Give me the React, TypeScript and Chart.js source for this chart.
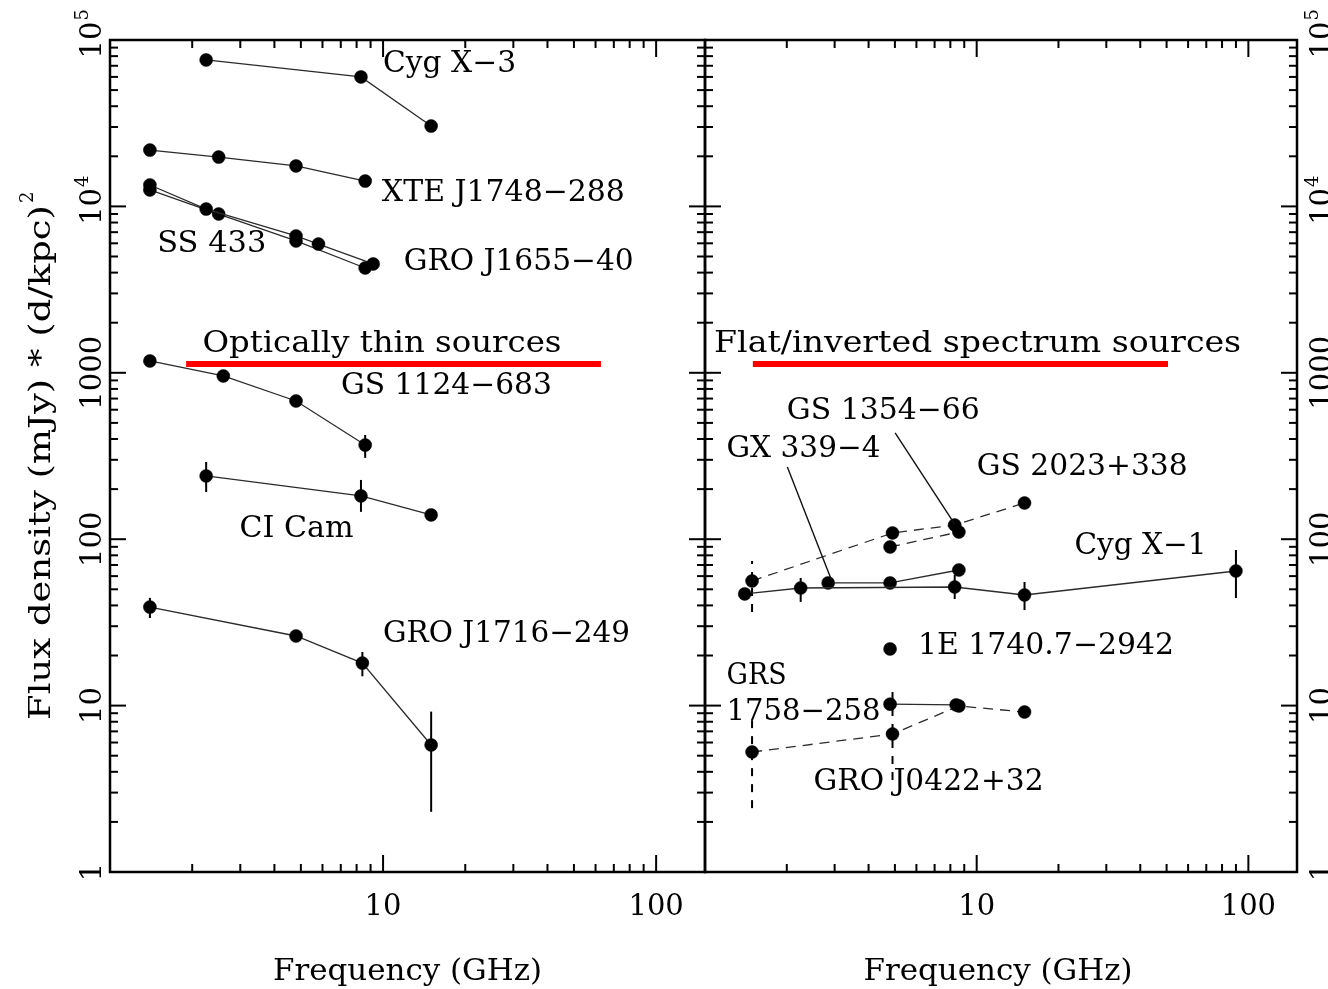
import React, { useEffect, useRef } from "react";
import { Chart, registerables } from "chart.js";

Chart.register(...registerables);

const W = 1328;
const H = 989;
const FONT = '"DejaVu Serif", "Liberation Serif", serif';
const FS = 29;

const X_MIN = 1;
const X_MAX = 151;
const Y_MIN = 1;
const Y_MAX = 100000;
const X_TICK_LABELS = [10, 100];
const Y_TICK_LABELS = [1, 10, 100, 1000, 10000, 100000];

// ---------- Left panel: optically thin sources ----------
const CYGX3_FREQ = [2.25, 8.3, 15];
const CYGX3_FLUX = [75900, 60000, 30400];

const XTE1748_FREQ = [1.4, 2.5, 4.8, 8.6];
const XTE1748_FLUX = [21800, 19800, 17500, 14200];

const SS433_FREQ = [1.4, 2.25, 4.8, 5.8, 9.2];
const SS433_FLUX = [13450, 9640, 6640, 5940, 4510];

const GRO1655_FREQ = [1.4, 2.5, 4.8, 8.6];
const GRO1655_FLUX = [12550, 9000, 6200, 4265];

const GS1124_FREQ = [1.4, 2.6, 4.8, 8.6];
const GS1124_FLUX = [1178, 957, 677, 368];
const GS1124_LO = [null, null, null, 308];
const GS1124_HI = [null, null, null, 423];

const CICAM_FREQ = [2.25, 8.3, 15];
const CICAM_FLUX = [240, 182, 140];
const CICAM_LO = [192, 146, null];
const CICAM_HI = [291, 227, null];

const GRO1716_FREQ = [1.4, 4.8, 8.4, 15];
const GRO1716_FLUX = [39.1, 26.2, 18.0, 5.8];
const GRO1716_LO = [33.6, null, 15.0, 2.3];
const GRO1716_HI = [44.4, null, 21.0, 9.2];

// ---------- Right panel: flat / inverted spectrum sources ----------
const CYGX1_FREQ = [1.4, 2.25, 8.3, 15, 90];
const CYGX1_FLUX = [46.9, 50.9, 51.6, 46.2, 64.4];
const CYGX1_LO = [null, 42.0, 43.7, 37.5, 44.3];
const CYGX1_HI = [null, 58.5, 61.0, 55.3, 86.1];

const GX339_FREQ = [2.84, 4.8, 8.6];
const GX339_FLUX = [54.6, 54.6, 65.3];

const GS2023_FREQ = [1.49, 4.9, 8.3, 15];
const GS2023_FLUX = [56.1, 109, 121.7, 165];
const GS2023_LO = [36.5, null, null, null];
const GS2023_HI = [74, null, null, null];

const GS1354_FREQ = [4.8, 8.6];
const GS1354_FLUX = [89.8, 110.5];

const E1740_FREQ = [4.8];
const E1740_FLUX = [21.9];

const GRS1758_FREQ = [4.8, 8.4];
const GRS1758_FLUX = [10.2, 10.1];

const GRO0422_FREQ = [1.49, 4.9, 8.6, 15];
const GRO0422_FLUX = [5.26, 6.75, 9.95, 9.15];
const GRO0422_LO = [2.42, 3.57, null, null];
const GRO0422_HI = [8.2, 12.8, null, null];

// ---------- annotations (data coordinates) ----------
const LEFT_BAR_FREQ = [1.9, 62.8];
const RIGHT_BAR_FREQ = [1.5, 50.6];
const BAR_FLUX = 1130;

const GX339_POINTER_FREQ = [2.01, 2.92];
const GX339_POINTER_FLUX = [272, 56.9];
const GS1354_POINTER_FREQ = [5.01, 8.3];
const GS1354_POINTER_FLUX = [435, 123];

type Label = { text: string; f: number; v: number; w: number };

const LEFT_LABELS: Label[] = [
  { text: "Cyg X\u22123", f: 10.0, v: 70800, w: 133 },
  { text: "XTE J1748\u2212288", f: 9.9, v: 11880, w: 243 },
  { text: "SS 433", f: 1.49, v: 5940, w: 109 },
  { text: "GRO J1655\u221240", f: 11.9, v: 4634, w: 230 },
  { text: "Optically thin sources", f: 2.18, v: 1490, w: 359 },
  { text: "GS 1124\u2212683", f: 7.01, v: 822, w: 211 },
  { text: "CI Cam", f: 2.98, v: 115, w: 114 },
  { text: "GRO J1716\u2212249", f: 10.0, v: 26.6, w: 247 },
];

const RIGHT_LABELS: Label[] = [
  { text: "Flat/inverted spectrum sources", f: 1.08, v: 1490, w: 527 },
  { text: "GS 1354\u221266", f: 2.0, v: 589, w: 193 },
  { text: "GX 339\u22124", f: 1.2, v: 344, w: 154 },
  { text: "GS 2023+338", f: 10.0, v: 268, w: 211 },
  { text: "Cyg X\u22121", f: 22.9, v: 91.0, w: 132 },
  { text: "1E 1740.7\u22122942", f: 6.08, v: 22.8, w: 256 },
  { text: "GRS", f: 1.2, v: 14.9, w: 60 },
  { text: "1758\u2212258", f: 1.2, v: 9.15, w: 154 },
  { text: "GRO J0422+32", f: 2.51, v: 3.47, w: 230 },
];

type Series = {
  freq: number[];
  flux: number[];
  lo?: (number | null)[];
  hi?: (number | null)[];
  dashed?: boolean;
};

function seriesDatasets(s: Series): any[] {
  const out: any[] = [];
  out.push({
    data: s.freq.map((f, i) => ({ x: f, y: s.flux[i] })),
    showLine: true,
    borderColor: "#2b2b2b",
    borderWidth: 1.3,
    borderDash: s.dashed ? [10, 7] : [],
    pointRadius: 6.5,
    pointBackgroundColor: "#000",
    pointBorderColor: "#000",
    pointBorderWidth: 0.5,
  });
  if (s.lo && s.hi) {
    s.freq.forEach((f, i) => {
      const lo = s.lo![i];
      const hi = s.hi![i];
      if (lo == null || hi == null) return;
      out.push({
        data: [
          { x: f, y: lo },
          { x: f, y: hi },
        ],
        showLine: true,
        borderColor: "#000",
        borderWidth: 2,
        borderDash: s.dashed ? [8, 8] : [],
        pointRadius: 0,
      });
    });
  }
  return out;
}

function lineDataset(fs: number[], vs: number[], color: string, width: number): any {
  return {
    data: fs.map((f, i) => ({ x: f, y: vs[i] })),
    showLine: true,
    borderColor: color,
    borderWidth: width,
    pointRadius: 0,
  };
}

function fitText(ctx: CanvasRenderingContext2D, text: string, x: number, y: number, w: number) {
  ctx.font = `${FS}px ${FONT}`;
  const nw = ctx.measureText(text).width;
  ctx.save();
  ctx.translate(x, y);
  ctx.scale(w / nw, 1);
  ctx.textAlign = "left";
  ctx.textBaseline = "middle";
  ctx.fillText(text, 0, 0);
  ctx.restore();
}

function yLabel(ctx: CanvasRenderingContext2D, v: number, bx: number, py: number) {
  ctx.save();
  ctx.translate(bx, py);
  ctx.rotate(-Math.PI / 2);
  ctx.textBaseline = "alphabetic";
  ctx.font = `${FS}px ${FONT}`;
  const exp = Math.round(Math.log10(v));
  if (v >= 10000) {
    const mw = ctx.measureText("10").width;
    ctx.textAlign = "left";
    ctx.fillText("10", -mw / 2, 0);
    ctx.font = `18px ${FONT}`;
    ctx.fillText(String(exp), mw / 2 + 1, -13);
  } else {
    ctx.textAlign = "center";
    ctx.fillText(String(v), 0, 0);
  }
  ctx.restore();
}

function makeAxesPlugin(side: "left" | "right", labels: Label[]) {
  return {
    id: "pgAxes" + side,
    afterDatasetsDraw(chart: any) {
      const ctx: CanvasRenderingContext2D = chart.ctx;
      const { left, right, top, bottom } = chart.chartArea;
      const xs = chart.scales.x;
      const ys = chart.scales.y;
      ctx.save();
      ctx.strokeStyle = "#000";
      ctx.fillStyle = "#000";
      ctx.lineWidth = 2;
      ctx.setLineDash([]);
      const seg = (x1: number, y1: number, x2: number, y2: number) => {
        ctx.beginPath();
        ctx.moveTo(x1, y1);
        ctx.lineTo(x2, y2);
        ctx.stroke();
      };
      for (let d = 0; d <= 2; d++) {
        for (let m = 1; m <= 9; m++) {
          const v = m * Math.pow(10, d);
          if (v <= X_MIN || v >= X_MAX) continue;
          const px = xs.getPixelForValue(v);
          const len = m === 1 ? 17 : 8;
          seg(px, bottom, px, bottom - len);
          seg(px, top, px, top + len);
        }
      }
      for (let d = 0; d <= 4; d++) {
        for (let m = 1; m <= 9; m++) {
          const v = m * Math.pow(10, d);
          if (v <= Y_MIN || v >= Y_MAX) continue;
          const py = ys.getPixelForValue(v);
          const len = m === 1 ? 16 : 8;
          seg(left, py, left + len, py);
          seg(right, py, right - len, py);
        }
      }
      ctx.lineWidth = 2.5;
      ctx.strokeRect(left, top, right - left, bottom - top);

      // x tick labels
      ctx.font = `${FS}px ${FONT}`;
      ctx.textAlign = "center";
      ctx.textBaseline = "alphabetic";
      X_TICK_LABELS.forEach((v) => {
        ctx.fillText(String(v), xs.getPixelForValue(v), 915);
      });

      // y tick labels
      const bx = side === "left" ? left - 9 : right + 34;
      Y_TICK_LABELS.forEach((v) => yLabel(ctx, v, bx, ys.getPixelForValue(v)));

      // x title
      ctx.font = `${FS}px ${FONT}`;
      {
        const t = "Frequency (GHz)";
        const nw = ctx.measureText(t).width;
        const cx = (left + right) / 2 - (side === "right" ? 3 : 0);
        ctx.save();
        ctx.translate(cx, 980);
        ctx.scale(269 / nw, 1);
        ctx.textAlign = "center";
        ctx.textBaseline = "alphabetic";
        ctx.fillText(t, 0, 0);
        ctx.restore();
      }

      // y title (left only)
      if (side === "left") {
        const t = "Flux density (mJy) * (d/kpc)";
        ctx.font = `${FS}px ${FONT}`;
        const nw = ctx.measureText(t).width;
        ctx.save();
        ctx.translate(50, 720);
        ctx.rotate(-Math.PI / 2);
        ctx.scale(515 / nw, 1);
        ctx.textAlign = "left";
        ctx.textBaseline = "alphabetic";
        ctx.fillText(t, 0, 0);
        ctx.restore();
        ctx.save();
        ctx.translate(50, 720 - 517);
        ctx.rotate(-Math.PI / 2);
        ctx.font = `18px ${FONT}`;
        ctx.textAlign = "left";
        ctx.fillText("2", 0, -17);
        ctx.restore();
      }

      // source labels
      labels.forEach((l) => {
        fitText(ctx, l.text, xs.getPixelForValue(l.f), ys.getPixelForValue(l.v), l.w);
      });
      ctx.restore();
    },
  };
}

function buildChart(canvas: HTMLCanvasElement, side: "left" | "right") {
  const datasets: any[] = [];
  if (side === "left") {
    datasets.push(lineDataset(LEFT_BAR_FREQ, [BAR_FLUX, BAR_FLUX], "#ff0000", 6));
    datasets.push(...seriesDatasets({ freq: CYGX3_FREQ, flux: CYGX3_FLUX }));
    datasets.push(...seriesDatasets({ freq: XTE1748_FREQ, flux: XTE1748_FLUX }));
    datasets.push(...seriesDatasets({ freq: SS433_FREQ, flux: SS433_FLUX }));
    datasets.push(...seriesDatasets({ freq: GRO1655_FREQ, flux: GRO1655_FLUX }));
    datasets.push(...seriesDatasets({ freq: GS1124_FREQ, flux: GS1124_FLUX, lo: GS1124_LO, hi: GS1124_HI }));
    datasets.push(...seriesDatasets({ freq: CICAM_FREQ, flux: CICAM_FLUX, lo: CICAM_LO, hi: CICAM_HI }));
    datasets.push(...seriesDatasets({ freq: GRO1716_FREQ, flux: GRO1716_FLUX, lo: GRO1716_LO, hi: GRO1716_HI }));
  } else {
    datasets.push(lineDataset(RIGHT_BAR_FREQ, [BAR_FLUX, BAR_FLUX], "#ff0000", 6));
    datasets.push(lineDataset(GX339_POINTER_FREQ, GX339_POINTER_FLUX, "#111", 1.4));
    datasets.push(lineDataset(GS1354_POINTER_FREQ, GS1354_POINTER_FLUX, "#111", 1.4));
    datasets.push(...seriesDatasets({ freq: CYGX1_FREQ, flux: CYGX1_FLUX, lo: CYGX1_LO, hi: CYGX1_HI }));
    datasets.push(...seriesDatasets({ freq: GX339_FREQ, flux: GX339_FLUX }));
    datasets.push(...seriesDatasets({ freq: GS2023_FREQ, flux: GS2023_FLUX, lo: GS2023_LO, hi: GS2023_HI, dashed: true }));
    datasets.push(...seriesDatasets({ freq: GS1354_FREQ, flux: GS1354_FLUX, dashed: true }));
    datasets.push(...seriesDatasets({ freq: E1740_FREQ, flux: E1740_FLUX }));
    datasets.push(...seriesDatasets({ freq: GRS1758_FREQ, flux: GRS1758_FLUX }));
    datasets.push(...seriesDatasets({ freq: GRO0422_FREQ, flux: GRO0422_FLUX, lo: GRO0422_LO, hi: GRO0422_HI, dashed: true }));
  }
  const padding =
    side === "left"
      ? { left: 110, right: W - 705, top: 40, bottom: H - 872 }
      : { left: 705, right: W - 1297, top: 40, bottom: H - 872 };
  return new Chart(canvas, {
    type: "scatter",
    data: { datasets },
    options: {
      responsive: false,
      animation: false,
      events: [],
      layout: { padding },
      plugins: { legend: { display: false }, tooltip: { enabled: false } },
      scales: {
        x: { type: "logarithmic", min: X_MIN, max: X_MAX, display: false },
        y: { type: "logarithmic", min: Y_MIN, max: Y_MAX, display: false },
      },
    },
    plugins: [makeAxesPlugin(side, side === "left" ? LEFT_LABELS : RIGHT_LABELS)],
  } as any);
}

export default function App() {
  const leftRef = useRef<HTMLCanvasElement>(null);
  const rightRef = useRef<HTMLCanvasElement>(null);
  useEffect(() => {
    const a = buildChart(leftRef.current!, "left");
    const b = buildChart(rightRef.current!, "right");
    return () => {
      a.destroy();
      b.destroy();
    };
  }, []);
  const cs: React.CSSProperties = { position: "absolute", left: 0, top: 0, width: W, height: H };
  return (
    <div style={{ position: "absolute", left: 0, top: 0, width: W, height: H, background: "#fff", overflow: "hidden" }}>
      <canvas ref={leftRef} width={W} height={H} style={cs} />
      <canvas ref={rightRef} width={W} height={H} style={cs} />
    </div>
  );
}
